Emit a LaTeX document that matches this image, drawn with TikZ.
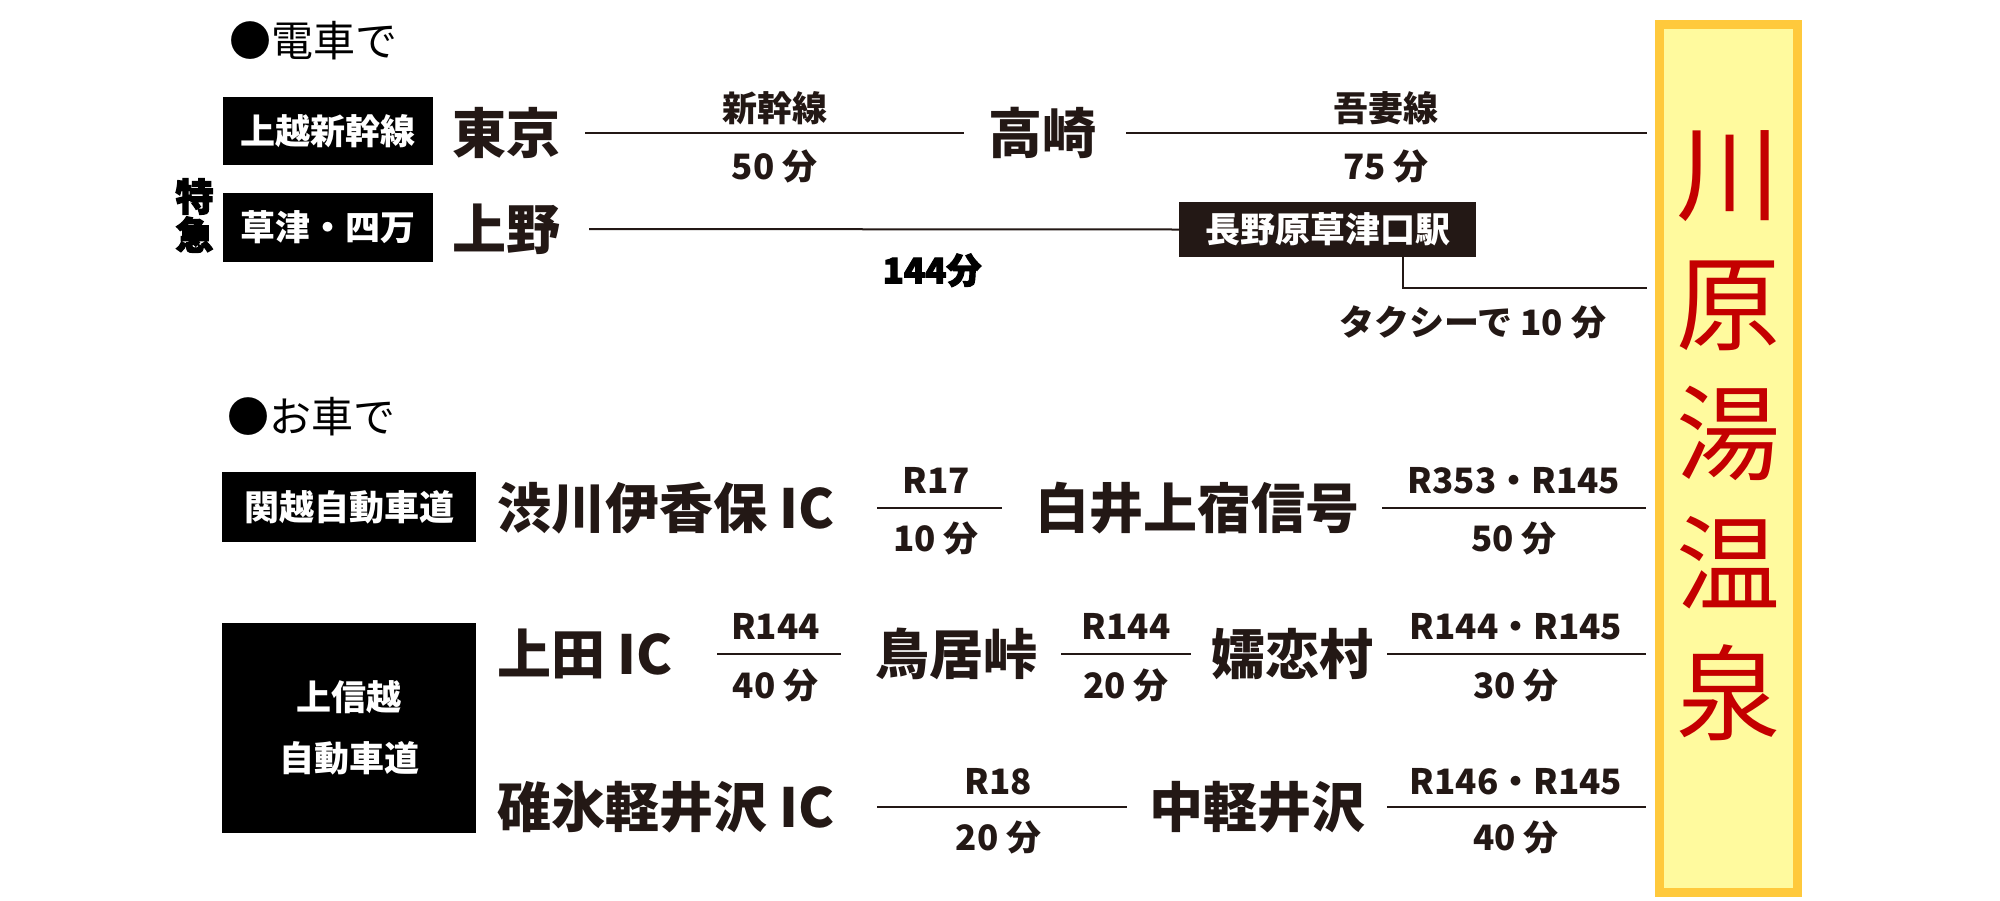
\documentclass[tikz,border=0pt]{standalone}
\usepackage{fontspec}
\setmainfont{Noto Sans CJK JP}
\usetikzlibrary{calc}
\definecolor{ink}{HTML}{231815}
\definecolor{goldb}{HTML}{FFC93C}
\definecolor{paleyel}{HTML}{FFFA9E}
\definecolor{onsenred}{HTML}{C40000}
\tikzset{
  station/.style={font=\bfseries\fontsize{27pt}{30pt}\selectfont, text=ink, inner sep=0pt, outer sep=0pt, text height=22.4pt, text depth=1.9pt},
  lab/.style={font=\bfseries\fontsize{17.5pt}{20pt}\selectfont, text=ink, inner sep=0pt, text height=14.5pt, text depth=1.2pt},
  heavy/.style={font=\bfseries\fontsize{17.5pt}{20pt}\selectfont\addfontfeature{FakeBold=3}, text=black, inner sep=0pt, text height=14.5pt, text depth=1.2pt},
  titletext/.style={font=\fontsize{21pt}{24pt}\selectfont, text=black, inner sep=0pt, text height=17.4pt, text depth=1.5pt},
  blackbox/.style={fill=black, text=white, font=\bfseries\fontsize{17.5pt}{20pt}\selectfont, inner sep=0pt, outer sep=0pt, align=center},
  route/.style={draw=ink, line width=1pt},
  onsenbox/.style={draw=goldb, fill=paleyel, line width=4.5pt, inner sep=0pt, outer sep=0pt, minimum width=69pt, minimum height=434pt},
  onsentext/.style={font=\fontsize{52pt}{65pt}\selectfont, text=onsenred, align=center, inner sep=0pt}
}
\begin{document}
\begin{tikzpicture}[x=0.5pt,y=-0.5pt]
\path[fill=white, use as bounding box] (0,0) rectangle (2000,900);

% destination box
\node[onsenbox] (onsen) at (1728.5,458.5) {};
\node[onsentext] (onsent) at (1728.5,436) {川\\原\\湯\\温\\泉};

% ---------- train ----------
\node[titletext] (t1) at (313,41) {●電車で};
\node[blackbox, minimum width=105pt, minimum height=34pt] (b1) at (328,131) {上越新幹線};
\node[blackbox, minimum width=105pt, minimum height=34.5pt] (b2) at (328,227.5) {草津・四万};
\node[heavy, align=center, font=\bfseries\fontsize{19pt}{17pt}\selectfont\addfontfeature{FakeBold=3}] (kyu) at (194.5,236) {特\\急};

\node[station] (tokyo) at (506.5,133) {東京};
\node[station] (taka) at (1042.5,133) {高崎};
\node[station] (ueno) at (506.5,229) {上野};
\node[blackbox, fill=ink, minimum width=148.5pt, minimum height=27.5pt] (naga) at (1327.5,229.5) {長野原草津口駅};

\coordinate (e1) at (1647,133);
\coordinate (e2) at (1647,288);

\draw[route, shorten <=12.25pt, shorten >=12.25pt] (tokyo) -- (taka);
\draw[route, shorten <=14.75pt] (taka.east) -- (e1);
\draw[route, shorten <=14.25pt] (ueno.east) -- (naga.west);
\draw[route] ([xshift=-36.5pt]naga.south east) |- (e2);

\node[lab] (l1a) at (774.5,108) {新幹線};
\node[lab] (l1b) at (774.5,166) {50 分};
\node[lab] (l2a) at (1386,108) {吾妻線};
\node[lab] (l2b) at (1386,166) {75 分};
\node[heavy] (l3) at (932,270) {144分};
\node[lab] (taxi) at (1473,322) {タクシーで 10 分};

% ---------- car ----------
\node[titletext] (t2) at (311,417) {●お車で};
\node[blackbox, minimum width=127pt, minimum height=35pt] (b3) at (349,507) {関越自動車道};
\node[blackbox, minimum width=127pt, minimum height=105pt, font=\bfseries\fontsize{17.5pt}{30.5pt}\selectfont] (b4) at (349,728) {上信越\\自動車道};

\node[station, anchor=west] (shibu) at (497,508) {渋川伊香保 IC};
\node[station] (shirai) at (1197,508) {白井上宿信号};
\node[station, anchor=west] (ueda) at (497,654) {上田 IC};
\node[station] (torii) at (956,654) {鳥居峠};
\node[station] (tsuma) at (1292.5,654) {嬬恋村};
\node[station, anchor=west] (usui) at (497,807) {碓氷軽井沢 IC};
\node[station] (naka) at (1257,807) {中軽井沢};

\coordinate (e3) at (1646,508);
\coordinate (e4) at (1646,654);
\coordinate (e5) at (1646,807);

\draw[route, shorten <=21.5pt, shorten >=16.5pt] (shibu.east) -- (shirai.west);
\draw[route, shorten <=11.5pt] (shirai.east) -- (e3);
\draw[route, shorten <=22.5pt, shorten >=17pt] (ueda.east) -- (torii.west);
\draw[route, shorten <=12pt, shorten >=10.25pt] (torii.east) -- (tsuma.west);
\draw[route, shorten <=6.75pt] (tsuma.east) -- (e4);
\draw[route, shorten <=21.5pt, shorten >=11pt] (usui.east) -- (naka.west);
\draw[route, shorten <=11pt] (naka.east) -- (e5);

\node[lab] (r1a) at (936,480) {R17};
\node[lab] (r1b) at (936,538) {10 分};
\node[lab] (r2a) at (1514,480) {R353・R145};
\node[lab] (r2b) at (1514,538) {50 分};
\node[lab] (r3a) at (775.5,626) {R144};
\node[lab] (r3b) at (775.5,685) {40 分};
\node[lab] (r4a) at (1126,626) {R144};
\node[lab] (r4b) at (1126,685) {20 分};
\node[lab] (r5a) at (1516,626) {R144・R145};
\node[lab] (r5b) at (1516,685) {30 分};
\node[lab] (r6a) at (998.5,781) {R18};
\node[lab] (r6b) at (998.5,837) {20 分};
\node[lab] (r7a) at (1516,781) {R146・R145};
\node[lab] (r7b) at (1516,837) {40 分};
\end{tikzpicture}
\end{document}
